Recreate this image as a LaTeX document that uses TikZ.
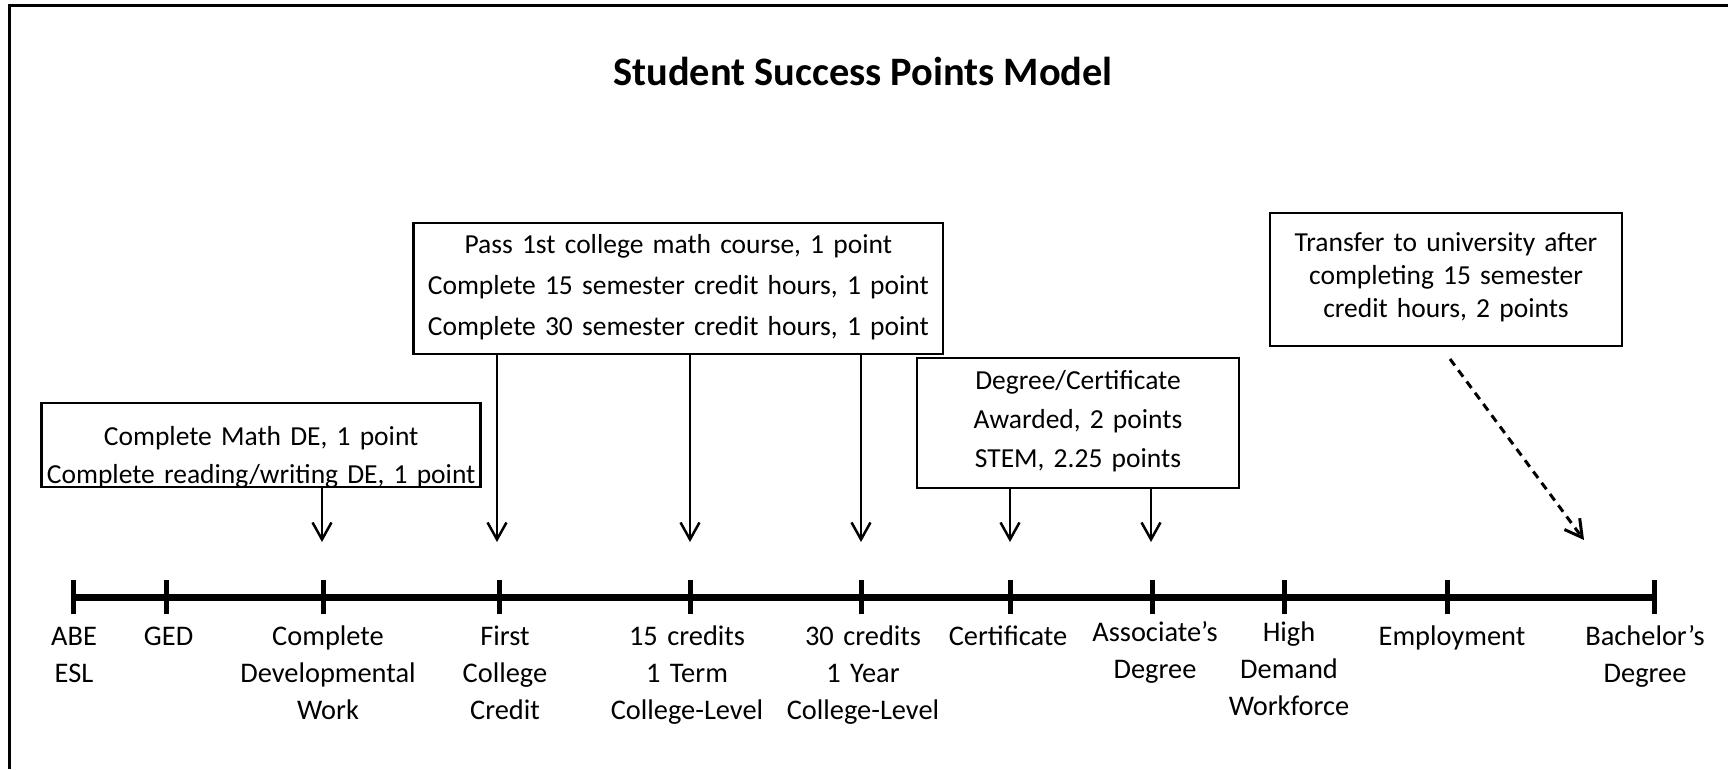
\documentclass[tikz,border=0pt]{standalone}
\usepackage{fontspec}
\setmainfont{Carlito}
\usetikzlibrary{arrows.meta}
\begin{document}
\begin{tikzpicture}[x=1pt,y=-1pt,
  box/.style={draw, line width=2.5pt, inner ysep=0pt, inner xsep=-30pt, align=center, anchor=base},
  lbl/.style={inner sep=0pt, text width=230pt, align=center, anchor=base, font=\fontsize{28.4}{37}\selectfont},
  arr/.style={line width=2.5pt, -{Straight Barb[length=17pt,width=19pt]}},
  tickmark/.style={line width=5pt},
  axis/.style={line width=7pt},
  frameline/.style={line width=3.5pt}]
\useasboundingbox (0,0) rectangle (1728,769);
% frame
\draw[frameline] (8,5.5) -- (1728,5.5);
\draw[frameline] (9.5,4) -- (9.5,769);
% title
\node[anchor=base, inner sep=0pt, font=\bfseries\fontsize{40.4}{48}\selectfont] (title) at (863,85) {Student Success Points Model};
% boxes (text width = drawn width + 60pt)
\node[box, text width=499pt, text height=42pt, text depth=42pt, font=\fontsize{27.5}{38.5}\selectfont] (boxA) at (261.2,445)
  {Complete Math DE, 1 point\\Complete reading/writing DE, 1 point};
\node[box, text width=589.4pt, text height=30pt, text depth=101pt, font=\fontsize{27.5}{41}\selectfont] (boxB) at (678.3,253)
  {Pass 1st college math course, 1 point\\Complete 15 semester credit hours, 1 point\\Complete 30 semester credit hours, 1 point};
\node[box, text width=382pt, text height=31pt, text depth=99pt, font=\fontsize{27.5}{39}\selectfont] (boxC) at (1078,389)
  {Degree/Certificate\\Awarded, 2 points\\STEM, 2.25 points};
\node[box, text width=412pt, text height=38pt, text depth=95pt, font=\fontsize{27.5}{33}\selectfont] (boxD) at (1446,251)
  {Transfer to university after\\completing 15 semester\\credit hours, 2 points};
% timeline points
\coordinate (k1) at (73,597);
\coordinate (k2) at (166,597);
\coordinate (k3) at (323,597);
\coordinate (k4) at (499,597);
\coordinate (k5) at (690,597);
\coordinate (k6) at (861,597);
\coordinate (k7) at (1010,597);
\coordinate (k8) at (1152,597);
\coordinate (k9) at (1284,597);
\coordinate (k10) at (1447,597);
\coordinate (k11) at (1654,597);
\draw[axis] (k1) -- (k11);
\foreach \k in {k1,k2,k3,k4,k5,k6,k7,k8,k9,k10,k11}
  \draw[tickmark] ([yshift=-17pt]\k) -- ([yshift=17pt]\k);
% arrow tips
\coordinate (a3) at (322,542);
\coordinate (a4) at (497,542);
\coordinate (a5) at (690,542);
\coordinate (a6) at (861,542);
\coordinate (a7) at (1010,542);
\coordinate (a8) at (1151,542);
\draw[arr] (boxA.south -| a3) -- (a3);
\draw[arr] (boxB.south -| a4) -- (a4);
\draw[arr] (boxB.south -| a5) -- (a5);
\draw[arr] (boxB.south -| a6) -- (a6);
\draw[arr] (boxC.south -| a7) -- (a7);
\draw[arr] (boxC.south -| a8) -- (a8);
\coordinate (dS) at (1450,359);
\coordinate (dE) at (1584,540);
\draw[arr, line width=3pt, dash pattern=on 8pt off 6pt] (dS) -- (dE);
% labels
\node[lbl] (l1) at (74,645) {ABE\\ESL};
\node[lbl] (l2) at (168.6,645) {GED};
\node[lbl] (l3) at (328,645) {Complete\\Developmental\\Work};
\node[lbl] (l4) at (505,645) {First\\College\\Credit};
\node[lbl] (l5) at (687,645) {15 credits\\1 Term\\College-Level};
\node[lbl] (l6) at (863,645) {30 credits\\1 Year\\College-Level};
\node[lbl] (l7) at (1008,645) {Certificate};
\node[lbl] (l8) at (1155,641) {Associate’s\\Degree};
\node[lbl] (l9) at (1289,641) {High\\Demand\\Workforce};
\node[lbl] (l10) at (1452,645) {Employment};
\node[lbl] (l11) at (1645,645) {Bachelor’s\\Degree};
\end{tikzpicture}
\end{document}
